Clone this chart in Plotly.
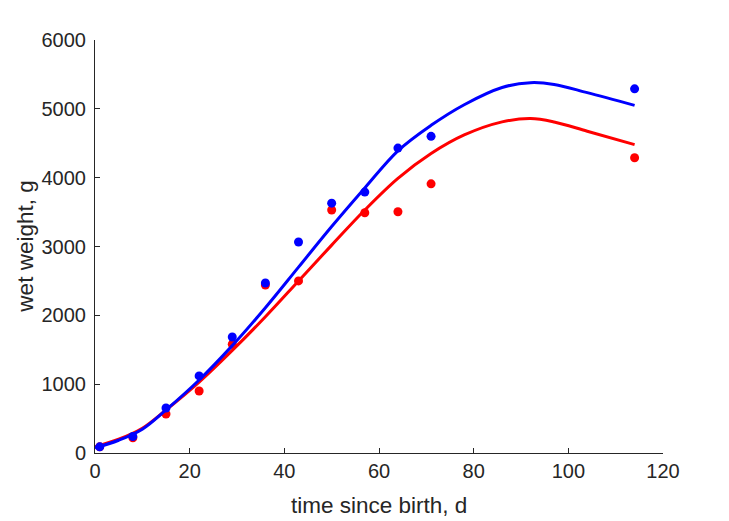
import plotly.graph_objects as go

# observed data
t_obs = [1, 8, 15, 22, 29, 36, 43, 50, 57, 64, 71, 114]
w_blue = [90, 240, 654, 1120, 1685, 2470, 3065, 3630, 3790, 4430, 4600, 5290]
w_red = [90, 220, 567, 900, 1580, 2440, 2500, 3530, 3490, 3505, 3910, 4290]

# model curves
t_fit = [0, 5, 10, 15, 22, 29, 36, 43, 50, 57, 64, 71, 78, 86, 92, 97, 104, 114]
fit_blue = [75, 185, 345, 625, 1060, 1560, 2110, 2700, 3290, 3850, 4390, 4760, 5060, 5310, 5380, 5355, 5235, 5050]
fit_red = [90, 200, 360, 625, 1030, 1490, 1980, 2500, 3020, 3530, 3990, 4350, 4620, 4810, 4860, 4810, 4675, 4480]

x_ticks = [0, 20, 40, 60, 80, 100, 120]
y_ticks = [0, 1000, 2000, 3000, 4000, 5000, 6000]

RED = "rgb(255,0,0)"
BLUE = "rgb(0,0,255)"
FONT = "Liberation Sans, Arial, sans-serif"
TXT = "#262626"

fig = go.Figure()
fig.add_trace(go.Scatter(x=t_fit, y=fit_red, mode="lines", line=dict(color=RED, width=3, shape="spline", smoothing=1.0), showlegend=False))
fig.add_trace(go.Scatter(x=t_obs, y=w_red, mode="markers", marker=dict(color=RED, size=9), showlegend=False))
fig.add_trace(go.Scatter(x=t_fit, y=fit_blue, mode="lines", line=dict(color=BLUE, width=3, shape="spline", smoothing=1.0), showlegend=False))
fig.add_trace(go.Scatter(x=t_obs, y=w_blue, mode="markers", marker=dict(color=BLUE, size=9), showlegend=False))

axis_common = dict(
    showgrid=False, zeroline=False, showline=True, linecolor=TXT, linewidth=1,
    ticks="inside", ticklen=5, tickcolor=TXT, mirror=False, automargin=False,
    tickfont=dict(family=FONT, size=20, color=TXT),
)

# page has an 8px body margin, so the figure is 8px smaller than the window
fig.update_layout(
    width=721, height=513,
    plot_bgcolor="white", paper_bgcolor="white",
    margin=dict(l=87, r=66, t=32, b=68),
    xaxis=dict(range=[0, 120], tickvals=x_ticks, **axis_common),
    yaxis=dict(range=[0, 6000], tickvals=y_ticks, ticklabelstandoff=4, **axis_common),
    annotations=[
        dict(text="time since birth, d", xref="paper", yref="paper", x=0.5, y=-0.128,
             xanchor="center", yanchor="middle", showarrow=False,
             font=dict(family=FONT, size=22.5, color=TXT)),
        dict(text="wet weight, g", xref="paper", yref="paper", x=-0.123, y=0.5,
             xanchor="center", yanchor="middle", showarrow=False, textangle=-90,
             font=dict(family=FONT, size=22.5, color=TXT)),
    ],
)

fig.write_html("out.html")
